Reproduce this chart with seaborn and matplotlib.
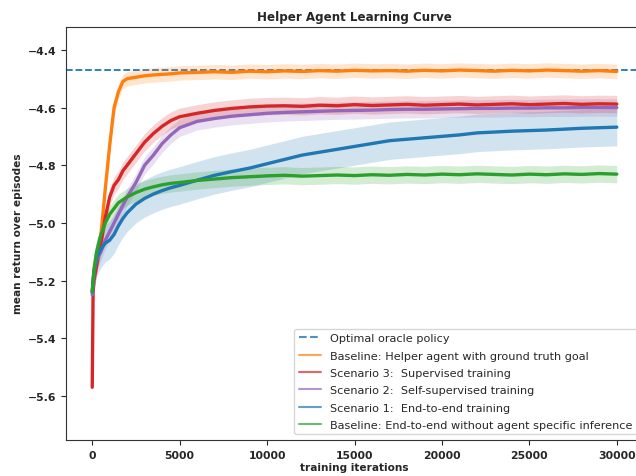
import numpy as np
import pandas as pd
import matplotlib
matplotlib.use("Agg")
import matplotlib.pyplot as plt
import seaborn as sns
from matplotlib.lines import Line2D

iters = [0, 50, 100, 250, 500, 750, 1000, 1250, 1500, 1750, 2000, 2500, 3000, 3500,
         4000, 4500, 5000, 6000, 7000, 8000, 9000, 10000, 11000, 12000, 13000, 14000,
         15000, 16000, 17000, 18000, 19000, 20000, 21000, 22000, 23000, 24000, 25000,
         26000, 27000, 28000, 29000, 30000]

oracle_value = -4.47

baseline_gt = [-5.24, -5.20, -5.17, -5.12, -5.04, -4.88, -4.73, -4.60, -4.545, -4.51,
               -4.50, -4.495, -4.49, -4.487, -4.485, -4.483, -4.48, -4.478, -4.476,
               -4.478, -4.474, -4.476, -4.473, -4.475, -4.472, -4.474, -4.471, -4.473,
               -4.472, -4.474, -4.471, -4.473, -4.470, -4.472, -4.474, -4.471, -4.473,
               -4.470, -4.472, -4.474, -4.472, -4.475]

scenario3 = [-5.57, -5.24, -5.20, -5.15, -5.07, -4.98, -4.91, -4.87, -4.85, -4.82,
             -4.80, -4.76, -4.72, -4.69, -4.665, -4.645, -4.632, -4.620, -4.610,
             -4.603, -4.598, -4.595, -4.594, -4.596, -4.592, -4.594, -4.590, -4.593,
             -4.591, -4.589, -4.592, -4.590, -4.588, -4.591, -4.589, -4.587, -4.590,
             -4.588, -4.586, -4.589, -4.587, -4.588]

scenario2 = [-5.25, -5.22, -5.17, -5.13, -5.10, -5.06, -5.03, -5.00, -4.97, -4.94,
             -4.91, -4.86, -4.80, -4.765, -4.725, -4.695, -4.670, -4.648, -4.638,
             -4.630, -4.625, -4.620, -4.617, -4.615, -4.613, -4.611, -4.610, -4.609,
             -4.607, -4.606, -4.606, -4.605, -4.604, -4.603, -4.603, -4.602, -4.602,
             -4.601, -4.601, -4.600, -4.600, -4.600]

scenario1 = [-5.24, -5.20, -5.17, -5.12, -5.09, -5.07, -5.06, -5.04, -5.01, -4.985,
             -4.965, -4.935, -4.915, -4.900, -4.888, -4.878, -4.870, -4.852, -4.835,
             -4.822, -4.810, -4.795, -4.780, -4.765, -4.755, -4.745, -4.735, -4.725,
             -4.715, -4.710, -4.705, -4.700, -4.695, -4.688, -4.685, -4.682, -4.680,
             -4.678, -4.675, -4.672, -4.670, -4.668]

baseline_e2e = [-5.24, -5.20, -5.16, -5.10, -5.04, -5.00, -4.97, -4.95, -4.93, -4.92,
                -4.91, -4.895, -4.883, -4.875, -4.868, -4.863, -4.860, -4.853, -4.848,
                -4.843, -4.840, -4.837, -4.835, -4.838, -4.836, -4.834, -4.836, -4.833,
                -4.835, -4.832, -4.834, -4.831, -4.833, -4.830, -4.832, -4.834, -4.831,
                -4.833, -4.830, -4.832, -4.829, -4.831]

labels = ["Baseline: Helper agent with ground truth goal",
          "Scenario 3:  Supervised training",
          "Scenario 2:  Self-supervised training",
          "Scenario 1:  End-to-end training",
          "Baseline: End-to-end without agent specific inference"]
oracle_label = "Optimal oracle policy"
band_halfwidth = [0.025, 0.03, 0.03, 0.065, 0.03]

sns.set_style("ticks")
plt.rcParams['font.family'] = ['DejaVu Sans']

colors = ["#ff7f0e", "#d62728", "#9467bd", "#1f77b4", "#2ca02c"]
series = [baseline_gt, scenario3, scenario2, scenario1, baseline_e2e]

df = pd.concat([pd.DataFrame({"iter": iters, "ret": s, "run": lab})
                for s, lab in zip(series, labels)], ignore_index=True)

fig = plt.figure(figsize=(6.36, 4.77), dpi=100)
ax = fig.add_axes([66/636, 1 - 441/477, (643 - 66)/636, (441 - 27.5)/477])

ax.axhline(oracle_value, color="#1f77b4", ls="--", lw=1.3, zorder=1)

for i in [3, 4, 2, 1, 0]:
    s = np.array(series[i])
    ax.fill_between(iters, s - band_halfwidth[i], s + band_halfwidth[i],
                    color=colors[i], alpha=0.2, lw=0, zorder=2)

sns.lineplot(data=df, x="iter", y="ret", hue="run", hue_order=labels,
             palette=colors, lw=2.4, ax=ax, legend=False, zorder=3)

handles = [Line2D([], [], color="#1f77b4", ls="--", lw=1.5, alpha=0.8)]
handles += [Line2D([], [], color=c, lw=1.5, alpha=0.7) for c in colors]
ax.legend(handles, [oracle_label] + labels, loc="lower right", fontsize=8.1,
          frameon=True, borderaxespad=0.5, labelspacing=0.65)

ax.set_xlim(-1500, 31500)
ax.set_ylim(-5.753, -4.319)
ax.set_xticks([0, 5000, 10000, 15000, 20000, 25000, 30000])
ax.set_yticks([-5.6, -5.4, -5.2, -5.0, -4.8, -4.6, -4.4])
for t in ax.get_xticklabels() + ax.get_yticklabels():
    t.set_fontweight("bold")
    t.set_fontsize(7.8)
ax.set_xlabel("training iterations", fontsize=7.6, fontweight="bold", labelpad=2)
ax.set_ylabel("mean return over episodes", fontsize=7.6, fontweight="bold", labelpad=3)
ax.set_title("Helper Agent Learning Curve", fontsize=8.6, fontweight="bold", pad=5)
for sp in ax.spines.values():
    sp.set_color("#333333")

fig.savefig("out.png", dpi=100)
